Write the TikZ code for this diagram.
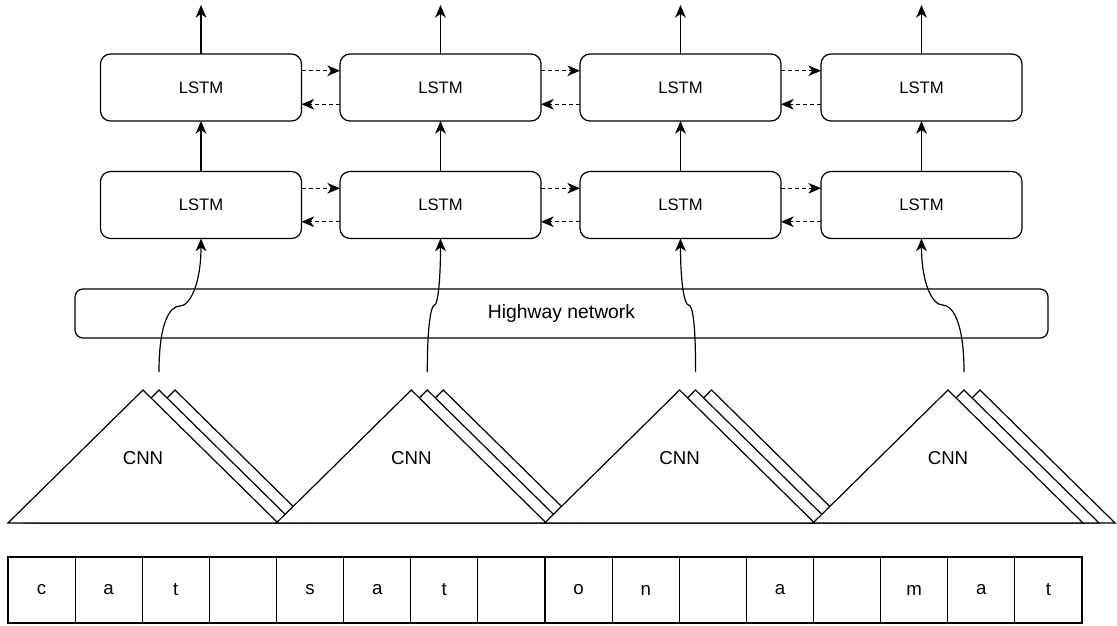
\documentclass[tikz,border=0pt]{standalone}
\usepackage{fontspec}
\setmainfont{Liberation Sans}
\usetikzlibrary{arrows.meta,calc}

\begin{document}
\begin{tikzpicture}[x=0.75pt,y=-0.75pt,line width=0.9pt,
  tip/.style={-{Stealth[length=9.5pt,width=8pt,inset=2.8pt]}},
  dashlink/.style={tip,dash pattern=on 3pt off 2.25pt},
  lstm/.style={draw,rounded corners=7.5pt,minimum width=150.75pt,minimum height=50.25pt,
    inner sep=0pt,outer sep=0pt,font=\fontsize{12.5}{14}\selectfont},
  highway/.style={draw,rounded corners=6pt,minimum width=729.75pt,minimum height=36.75pt,
    inner sep=0pt,outer sep=0pt,font=\fontsize{14.5}{16}\selectfont},
  cell/.style={draw,minimum width=50.34pt,minimum height=49.5pt,inner sep=0pt,outer sep=0pt,
    font=\fontsize{14}{16}\selectfont},
  cnnlbl/.style={font=\fontsize{14}{16}\selectfont},
  cnn/.style={draw,fill=white,line join=miter}
]
\useasboundingbox (0,0) rectangle (1117,625);

% two stacked rows of LSTM cells with outputs on top
\foreach \x [count=\i] in {201,440.5,680.5,921.5}{
  \node[lstm] (t\i) at (\x,87.5) {LSTM};
  \node[lstm] (b\i) at (\x,205) {LSTM};
  \coordinate (o\i) at (\x,5);
  \draw[tip] (t\i.north) -- (o\i);
  \draw[tip] (b\i.north) -- (t\i.south);
}

% bidirectional links between neighbouring cells
\foreach \r in {t,b}{
  \foreach \i/\j in {1/2,2/3,3/4}{
    \draw[dashlink] ($(\r\i.north east)!0.25!(\r\i.south east)$) -- ($(\r\j.north west)!0.25!(\r\j.south west)$);
    \draw[dashlink] ($(\r\j.north west)!0.75!(\r\j.south west)$) -- ($(\r\i.north east)!0.75!(\r\i.south east)$);
  }
}

% highway layer
\node[highway] (hw) at (561.5,313.5) {Highway network};

% character CNNs: each a stack of three filters
\foreach \ax [count=\i] in {143,411.3,679.6,948}{
  \foreach \k in {2,1,0}{
    \draw[cnn] (\ax+16*\k-135,523) -- (\ax+16*\k,390) -- (\ax+16*\k+135,523) -- cycle;
  }
  \node[cnnlbl] (cnn\i) at (\ax,458) {CNN};
  \coordinate (s\i) at (\ax+16,372);
}

% CNN outputs feeding the first LSTM row
\coordinate (m1) at (180,306);
\coordinate (m2) at (434.5,305);
\coordinate (m3) at (688.5,305);
\coordinate (m4) at (942.5,305);
\draw[tip] (s1) .. controls +(0,-50) and +(-10,0) .. (m1) .. controls +(10,0) and +(0,45) .. (b1.south);
\draw[tip] (s2) .. controls +(0,-50) and +(-3,0) .. (m2) .. controls +(3,0) and +(0,45) .. (b2.south);
\draw[tip] (s3) .. controls +(0,-50) and +(4,0) .. (m3) .. controls +(-4,0) and +(0,45) .. (b3.south);
\draw[tip] (s4) .. controls +(0,-50) and +(10,0) .. (m4) .. controls +(-10,0) and +(0,45) .. (b4.south);

% input characters
\foreach \c [count=\i] in {c,a,t,{},s,a,t,{},o,n,{},a,{},m,a,t}{
  \pgfmathsetmacro{\cx}{8+67.125*(\i-0.5)}
  \node[cell] (ch\i) at (\cx,590) {\c};
}
\end{tikzpicture}
\end{document}
